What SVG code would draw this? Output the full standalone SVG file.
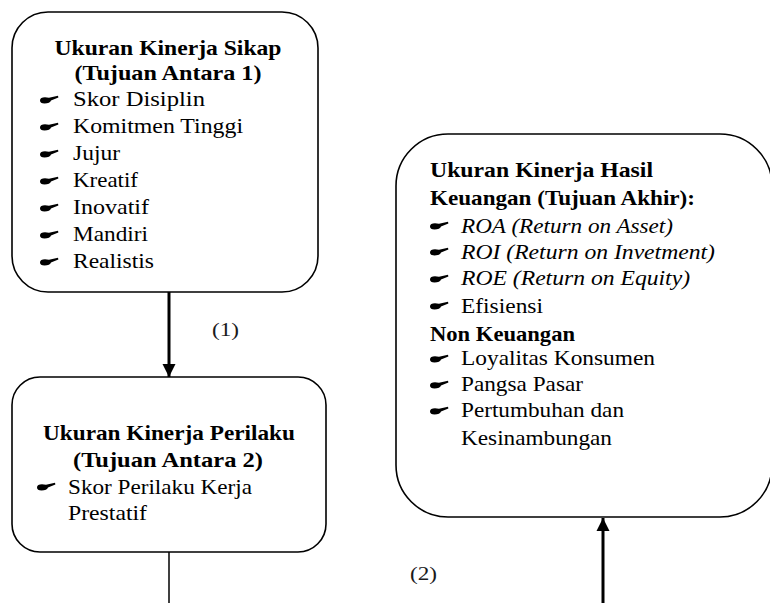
<svg xmlns="http://www.w3.org/2000/svg" width="770" height="603" viewBox="0 0 770 603">
<style>
.box{fill:#fff;stroke:#000;stroke-width:1.6}
.t{font-family:"Liberation Serif","Times New Roman",serif;font-size:21px;fill:#000}
.b{font-weight:bold}
.i{font-style:italic}
.c{text-anchor:middle}
.lbl{font-family:"Liberation Serif","Times New Roman",serif;font-size:19px;fill:#1a1a1a}
.thick{stroke:#000;stroke-width:3;fill:none}
.thin{stroke:#000;stroke-width:1.5;fill:none}
</style>
<defs>
<path id="bul" d="M0,0.5 C0,-2.5 4,-3.5 9,-2.2 L18,-4.2 L18.4,-2.6 L11,0.6 C10.5,2.6 8,3.4 4.5,3.4 C1.5,3.4 0,2.4 0,0.5 Z" fill="#000"/>
<marker id="ah" viewBox="0 0 10 10" refX="10" refY="5" markerWidth="4.4" markerHeight="4.4" orient="auto" markerUnits="strokeWidth">
<path d="M0,0 L10,5 L0,10 Z" fill="#000"/>
</marker>
</defs>
<g id="connectors">
<line class="thick" x1="169" y1="292" x2="169" y2="377" marker-end="url(#ah)"/>
<text class="lbl" x="212" y="336" textLength="27" lengthAdjust="spacingAndGlyphs">(1)</text>
<line class="thin" x1="169" y1="552" x2="169" y2="603"/>
<line class="thick" x1="603" y1="603" x2="603" y2="518" marker-end="url(#ah)"/>
<text class="lbl" x="410" y="580" textLength="27" lengthAdjust="spacingAndGlyphs">(2)</text>
</g>
<g id="node-sikap">
<rect class="box" x="12" y="12" width="306" height="280" rx="36" ry="36"/>
<text class="t b c" x="168" y="55" textLength="227" lengthAdjust="spacingAndGlyphs">Ukuran Kinerja  Sikap</text>
<text class="t b c" x="168" y="80" textLength="187" lengthAdjust="spacingAndGlyphs">(Tujuan Antara 1)</text>
<use href="#bul" x="40" y="100"/><text class="t" x="73" y="106" textLength="132" lengthAdjust="spacingAndGlyphs">Skor  Disiplin</text>
<use href="#bul" x="40" y="127"/><text class="t" x="73" y="133" textLength="170" lengthAdjust="spacingAndGlyphs">Komitmen Tinggi</text>
<use href="#bul" x="40" y="154"/><text class="t" x="73" y="160" textLength="47" lengthAdjust="spacingAndGlyphs">Jujur</text>
<use href="#bul" x="40" y="181"/><text class="t" x="73" y="187" textLength="65" lengthAdjust="spacingAndGlyphs">Kreatif</text>
<use href="#bul" x="40" y="208"/><text class="t" x="73" y="214" textLength="76" lengthAdjust="spacingAndGlyphs">Inovatif</text>
<use href="#bul" x="40" y="235"/><text class="t" x="73" y="241" textLength="75" lengthAdjust="spacingAndGlyphs">Mandiri</text>
<use href="#bul" x="40" y="262"/><text class="t" x="73" y="268" textLength="81" lengthAdjust="spacingAndGlyphs">Realistis</text>
</g>
<g id="node-perilaku">
<rect class="box" x="12" y="377" width="314" height="175" rx="28" ry="28"/>
<text class="t b c" x="169" y="440" textLength="252" lengthAdjust="spacingAndGlyphs">Ukuran Kinerja Perilaku</text>
<text class="t b c" x="168" y="467" textLength="190" lengthAdjust="spacingAndGlyphs">(Tujuan Antara  2)</text>
<use href="#bul" x="37" y="487"/><text class="t" x="68" y="494" textLength="184" lengthAdjust="spacingAndGlyphs">Skor Perilaku Kerja</text>
<text class="t" x="68" y="520" textLength="79" lengthAdjust="spacingAndGlyphs">Prestatif</text>
</g>
<g id="node-hasil">
<rect class="box" x="396" y="134" width="376" height="383" rx="52" ry="52"/>
<text class="t b" x="430" y="177" textLength="223" lengthAdjust="spacingAndGlyphs">Ukuran Kinerja  Hasil</text>
<text class="t b" x="430" y="205" textLength="265" lengthAdjust="spacingAndGlyphs">Keuangan (Tujuan Akhir):</text>
<use href="#bul" x="430" y="226"/><text class="t i" x="461" y="233" textLength="212" lengthAdjust="spacingAndGlyphs">ROA  (Return on Asset)</text>
<use href="#bul" x="430" y="252"/><text class="t i" x="461" y="259" textLength="254" lengthAdjust="spacingAndGlyphs">ROI  (Return on Invetment)</text>
<use href="#bul" x="430" y="279"/><text class="t i" x="461" y="285" textLength="229" lengthAdjust="spacingAndGlyphs">ROE  (Return on Equity)</text>
<use href="#bul" x="430" y="306"/><text class="t" x="461" y="313" textLength="82" lengthAdjust="spacingAndGlyphs">Efisiensi</text>
<text class="t b" x="430" y="341" textLength="145" lengthAdjust="spacingAndGlyphs">Non Keuangan</text>
<use href="#bul" x="430" y="359"/><text class="t" x="461" y="365" textLength="194" lengthAdjust="spacingAndGlyphs">Loyalitas Konsumen</text>
<use href="#bul" x="430" y="385"/><text class="t" x="461" y="391" textLength="122" lengthAdjust="spacingAndGlyphs">Pangsa Pasar</text>
<use href="#bul" x="430" y="411"/><text class="t" x="461" y="417" textLength="163" lengthAdjust="spacingAndGlyphs">Pertumbuhan dan</text>
<text class="t" x="461" y="445" textLength="151" lengthAdjust="spacingAndGlyphs">Kesinambungan</text>
</g>
</svg>
